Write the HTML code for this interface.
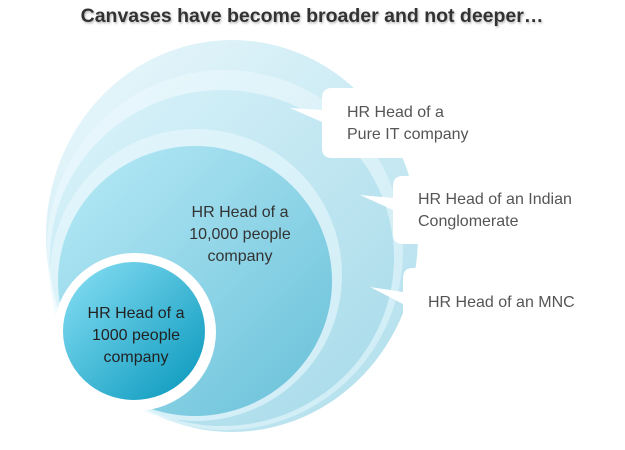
<!DOCTYPE html>
<html><head><meta charset="utf-8"><style>
html,body{margin:0;padding:0;background:#fff;}
svg{display:block;}
text{font-family:"Liberation Sans",sans-serif;}
</style></head><body>
<svg width="625" height="450" viewBox="0 0 625 450">
<defs>
<linearGradient id="gOuter" x1="0" y1="0" x2="1" y2="1">
<stop offset="0" stop-color="#eaf8fc"/><stop offset="1" stop-color="#afdeec"/></linearGradient>
<linearGradient id="gMid" x1="0" y1="0" x2="1" y2="1">
<stop offset="0" stop-color="#dcf4fb"/><stop offset="1" stop-color="#a5d9e8"/></linearGradient>
<linearGradient id="g10k" x1="0" y1="0" x2="1" y2="1">
<stop offset="0" stop-color="#b8eaf7"/><stop offset="1" stop-color="#68c0d8"/></linearGradient>
<linearGradient id="gSmall" x1="0" y1="0" x2="1" y2="1">
<stop offset="0" stop-color="#8ae0f5"/><stop offset="1" stop-color="#0596bb"/></linearGradient>
<filter id="sh"><feDropShadow dx="1" dy="1.5" stdDeviation="1" flood-color="#888" flood-opacity="0.6"/></filter>
</defs>
<text x="312" y="22" text-anchor="middle" font-size="19.5" font-weight="bold" fill="#333" filter="url(#sh)">Canvases have become broader and not deeper…</text>

<ellipse cx="232" cy="236" rx="186" ry="196" fill="url(#gOuter)"/>
<ellipse cx="225" cy="250" rx="178" ry="180" fill="#f0fbfe" opacity="0.45"/>
<ellipse cx="222" cy="258" rx="172" ry="168" fill="url(#gMid)"/>
<ellipse cx="196" cy="275" rx="146" ry="146" fill="#eaf9fd" opacity="0.6"/>
<ellipse cx="195" cy="281" rx="137" ry="135" fill="url(#g10k)"/>
<ellipse cx="135" cy="332" rx="81" ry="79" fill="#fff"/>
<ellipse cx="134" cy="331" rx="71" ry="69" fill="url(#gSmall)"/>

<g>
<path d="M290,108 L322,110 L322,98 Q322,88 332,88 L480,88 L480,158 L332,158 Q322,158 322,148 L322,122 Z" fill="#fff"/>
<text x="347" y="117" font-size="16" fill="#555">HR Head of a</text>
<text x="347" y="139" font-size="16" fill="#555">Pure IT company</text>
</g>
<g>
<path d="M360,195 L393,198 L393,186 Q393,176 403,176 L600,176 L600,244 L403,244 Q393,244 393,234 L393,210 Z" fill="#fff"/>
<text x="418" y="204" font-size="16" fill="#555">HR Head of an Indian</text>
<text x="418" y="226" font-size="16" fill="#555">Conglomerate</text>
</g>
<g>
<path d="M370,287 L403,292 L403,278 Q403,268 413,268 L600,268 L600,336 L413,336 Q403,336 403,326 L403,304 Z" fill="#fff"/>
<text x="428" y="307" font-size="16" fill="#555">HR Head of an MNC</text>
</g>
<g font-size="16" fill="#333" text-anchor="middle">
<text x="240" y="217">HR Head of a</text>
<text x="240" y="239">10,000 people</text>
<text x="240" y="261">company</text>
</g>
<g font-size="16" fill="#222" text-anchor="middle">
<text x="136" y="318">HR Head of a</text>
<text x="136" y="340">1000 people</text>
<text x="136" y="362">company</text>
</g>
</svg>
</body></html>
